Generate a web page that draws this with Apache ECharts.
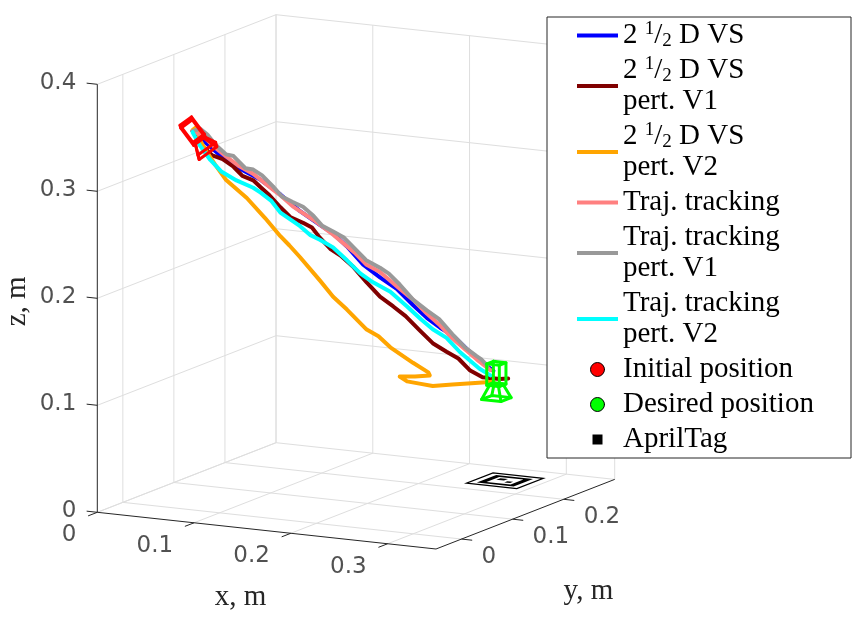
<!DOCTYPE html>
<html>
<head>
<meta charset="utf-8">
<script src="https://cdn.jsdelivr.net/npm/echarts@6/dist/echarts.min.js"></script>
<style>
  html, body { margin: 0; padding: 0; background: #fff; }
  #chart { width: 861px; height: 622px; }
</style>
</head>
<body>
<div id="chart"></div>
<script>
// axis limits (m) and tick values
const xLim = [0, 0.35]
const yLim = [-0.05, 0.30]
const zLim = [0, 0.4]
const xTicks = [0, 0.1, 0.2, 0.3]
const yTicks = [0, 0.1, 0.2]
const zTicks = [0, 0.1, 0.2, 0.3, 0.4]

// camera trajectories, [x, y, z] in m
const vsNominal = [
  [0.061, 0.021, 0.349], [0.069, 0.030, 0.338], [0.079, 0.040, 0.325], [0.092, 0.054, 0.311],
  [0.106, 0.069, 0.299], [0.119, 0.083, 0.284], [0.132, 0.097, 0.267], [0.145, 0.111, 0.253],
  [0.154, 0.120, 0.244], [0.163, 0.130, 0.231], [0.174, 0.141, 0.213], [0.185, 0.153, 0.200],
  [0.196, 0.165, 0.188], [0.207, 0.176, 0.172], [0.216, 0.186, 0.159], [0.225, 0.195, 0.149],
  [0.234, 0.205, 0.140], [0.243, 0.214, 0.127], [0.253, 0.226, 0.113], [0.260, 0.233, 0.105]
]
const vsPertV1 = [
  [0.061, 0.021, 0.349], [0.068, 0.028, 0.334], [0.074, 0.035, 0.325], [0.081, 0.042, 0.321],
  [0.088, 0.050, 0.313], [0.094, 0.056, 0.304], [0.101, 0.064, 0.299], [0.106, 0.069, 0.292],
  [0.112, 0.075, 0.284], [0.119, 0.083, 0.272], [0.126, 0.090, 0.262], [0.134, 0.099, 0.256],
  [0.140, 0.105, 0.251], [0.145, 0.111, 0.241], [0.152, 0.118, 0.230], [0.159, 0.125, 0.223],
  [0.167, 0.134, 0.212], [0.176, 0.144, 0.196], [0.185, 0.153, 0.182], [0.194, 0.162, 0.172],
  [0.202, 0.171, 0.162], [0.211, 0.181, 0.148], [0.220, 0.190, 0.135], [0.229, 0.200, 0.126],
  [0.237, 0.208, 0.119], [0.245, 0.216, 0.107], [0.253, 0.225, 0.100], [0.264, 0.238, 0.097],
  [0.270, 0.243, 0.097]
]
const vsPertV2 = [
  [0.061, 0.021, 0.350], [0.064, 0.024, 0.353], [0.066, 0.026, 0.340], [0.071, 0.031, 0.328],
  [0.076, 0.037, 0.316], [0.083, 0.045, 0.301], [0.097, 0.059, 0.283], [0.109, 0.072, 0.263],
  [0.119, 0.083, 0.245], [0.125, 0.089, 0.236], [0.132, 0.097, 0.224], [0.145, 0.111, 0.201],
  [0.154, 0.120, 0.185], [0.163, 0.130, 0.172], [0.176, 0.144, 0.152], [0.184, 0.152, 0.145],
  [0.192, 0.160, 0.134], [0.207, 0.176, 0.118], [0.217, 0.187, 0.108], [0.218, 0.188, 0.105],
  [0.208, 0.178, 0.105], [0.198, 0.167, 0.106], [0.203, 0.172, 0.101], [0.211, 0.181, 0.098],
  [0.220, 0.190, 0.095], [0.233, 0.204, 0.095], [0.248, 0.220, 0.095], [0.260, 0.233, 0.095]
]
const ttNominal = [
  [0.061, 0.021, 0.349], [0.068, 0.028, 0.344], [0.076, 0.037, 0.332], [0.083, 0.045, 0.323],
  [0.092, 0.054, 0.313], [0.101, 0.064, 0.305], [0.114, 0.078, 0.289], [0.120, 0.084, 0.282],
  [0.127, 0.092, 0.272], [0.141, 0.106, 0.258], [0.154, 0.120, 0.243], [0.168, 0.135, 0.225],
  [0.176, 0.143, 0.213], [0.185, 0.153, 0.205], [0.198, 0.167, 0.188], [0.207, 0.176, 0.177],
  [0.216, 0.186, 0.163], [0.224, 0.195, 0.152], [0.233, 0.204, 0.138], [0.249, 0.221, 0.117],
  [0.258, 0.231, 0.106]
]
const ttPertV1 = [
  [0.061, 0.021, 0.349], [0.066, 0.026, 0.351], [0.071, 0.031, 0.345], [0.076, 0.037, 0.335],
  [0.083, 0.045, 0.325], [0.088, 0.050, 0.323], [0.092, 0.054, 0.317], [0.096, 0.058, 0.311],
  [0.101, 0.064, 0.309], [0.107, 0.070, 0.303], [0.114, 0.078, 0.292], [0.120, 0.084, 0.282],
  [0.127, 0.092, 0.276], [0.134, 0.099, 0.271], [0.141, 0.106, 0.262], [0.147, 0.112, 0.252],
  [0.154, 0.120, 0.246], [0.161, 0.127, 0.240], [0.168, 0.135, 0.229], [0.176, 0.143, 0.217],
  [0.185, 0.153, 0.209], [0.191, 0.159, 0.203], [0.198, 0.167, 0.192], [0.207, 0.176, 0.177],
  [0.216, 0.186, 0.166], [0.224, 0.195, 0.157], [0.233, 0.204, 0.142], [0.241, 0.213, 0.129],
  [0.249, 0.221, 0.120], [0.252, 0.224, 0.117], [0.256, 0.229, 0.110]
]
const ttPertV2 = [
  [0.061, 0.021, 0.348], [0.066, 0.026, 0.335], [0.073, 0.033, 0.321], [0.080, 0.042, 0.309],
  [0.090, 0.052, 0.300], [0.101, 0.064, 0.292], [0.106, 0.069, 0.287], [0.113, 0.076, 0.279],
  [0.119, 0.083, 0.267], [0.132, 0.097, 0.253], [0.139, 0.104, 0.244], [0.145, 0.111, 0.239],
  [0.154, 0.120, 0.231], [0.163, 0.130, 0.218], [0.172, 0.139, 0.205], [0.180, 0.148, 0.196],
  [0.192, 0.160, 0.186], [0.203, 0.172, 0.171], [0.212, 0.182, 0.158], [0.220, 0.190, 0.148],
  [0.229, 0.200, 0.139], [0.238, 0.209, 0.125], [0.251, 0.223, 0.108], [0.258, 0.231, 0.101]
]

// camera poses and the tag on the floor
const initialPos = [0.061, 0.021, 0.349]
const initialDir = [0.5, 0.3, -0.8]
const desiredPos = [0.262, 0.235, 0.102]
const desiredDir = [0, 0, -1]
const tagCenter = [0.264, 0.248]

const names = [
  '2 1/2 D VS', '2 1/2 D VS\npert. V1', '2 1/2 D VS\npert. V2',
  'Traj. tracking', 'Traj. tracking\npert. V1', 'Traj. tracking\npert. V2',
  'Initial position', 'Desired position', 'AprilTag'
]
const colors = ['#0000ff', '#800000', '#ffa500', '#ff8080', '#999999', '#00ffff', '#ff0000', '#00ff00', '#000000']

// where the axes box lands on the page (orthographic view)
const view = {
  origin: [97.3, 512.3],
  ex: [338.7, 36.7],
  ey: [178.7, -69.6],
  ez: [0, -428]
}
const W = 861, H = 622

function project (p) {
  const u = (p[0] - xLim[0]) / (xLim[1] - xLim[0])
  const v = (p[1] - yLim[0]) / (yLim[1] - yLim[0])
  const w = (p[2] - zLim[0]) / (zLim[1] - zLim[0])
  return [
    view.origin[0] + u * view.ex[0] + v * view.ey[0] + w * view.ez[0],
    view.origin[1] + u * view.ex[1] + v * view.ey[1] + w * view.ez[1]
  ]
}

const [x0, x1] = xLim
const [y0, y1] = yLim
const [z0, z1] = zLim

// grid on floor, left wall and back wall
const gridSegs = []
xTicks.forEach(x => gridSegs.push([[x, y0, z0], [x, y1, z0]], [[x, y1, z0], [x, y1, z1]]))
yTicks.forEach(y => gridSegs.push([[x0, y, z0], [x1, y, z0]], [[x0, y, z0], [x0, y, z1]]))
zTicks.forEach(z => gridSegs.push([[x0, y0, z], [x0, y1, z]], [[x0, y1, z], [x1, y1, z]]))
gridSegs.push([[x0, y1, z0], [x0, y1, z1]], [[x1, y1, z0], [x1, y1, z1]])

// axis lines and tick marks
const axisSegs = [
  [[x0, y0, z0], [x0, y0, z1]],
  [[x0, y0, z0], [x1, y0, z0]],
  [[x1, y0, z0], [x1, y1, z0]]
]
xTicks.forEach(x => axisSegs.push([[x, y0, z0], [x, y0 - 0.018, z0]]))
yTicks.forEach(y => axisSegs.push([[x1, y, z0], [x1 + 0.011, y, z0]]))
zTicks.forEach(z => axisSegs.push([[x0, y0, z], [x0 - 0.011, y0, z]]))

// camera wireframe: body box + frustum along the viewing direction
const camBody = { half: 0.0065, depth: 0.010 }
const camCone = { near: 0.0045, far: 0.010, length: 0.013 }

function cameraWire (pos, dir) {
  const norm = a => { const l = Math.hypot(...a); return a.map(c => c / l) }
  const cross = (a, b) => [a[1] * b[2] - a[2] * b[1], a[2] * b[0] - a[0] * b[2], a[0] * b[1] - a[1] * b[0]]
  const d = norm(dir)
  let u = cross(d, [0, 0, 1])
  u = Math.hypot(...u) < 1e-6 ? [1, 0, 0] : norm(u)
  const v = cross(d, u)
  const at = (a, b, c) => pos.map((p, i) => p + a * u[i] + b * v[i] + c * d[i])
  const corners = [[-1, -1], [1, -1], [1, 1], [-1, 1]]
  const loop = (h, c) => corners.concat([corners[0]]).map(([a, b]) => at(a * h, b * h, c))
  const bh = camBody.half, bd = camBody.depth
  const cEnd = bd + camCone.length
  const wires = [loop(bh, -bd), loop(bh, bd), loop(camCone.near, bd), loop(camCone.far, cEnd)]
  corners.forEach(([a, b]) => {
    wires.push([at(a * bh, b * bh, -bd), at(a * bh, b * bh, bd)])
    wires.push([at(a * camCone.near, b * camCone.near, bd), at(a * camCone.far, b * camCone.far, cEnd)])
  })
  return wires
}

// AprilTag drawn as stacked squares: 0 = paper, 1 = black, 2 = white
const tagLayers = [
  { half: 0.026, offset: [0, 0], kind: 0 },
  { half: 0.019, offset: [0, 0], kind: 1 },
  { half: 0.0125, offset: [0, 0], kind: 2 },
  { half: 0.004, offset: [-0.005, 0.004], kind: 1 },
  { half: 0.003, offset: [0.006, -0.004], kind: 1 }
]
const tagData = tagLayers.map(l => {
  const cx = tagCenter[0] + l.offset[0], cy = tagCenter[1] + l.offset[1], h = l.half
  const quad = [[cx - h, cy - h, 0], [cx + h, cy - h, 0], [cx + h, cy + h, 0], [cx - h, cy + h, 0]]
  return quad.flatMap(project).concat([l.kind])
})

function segSeries (segs, color, width, z) {
  return {
    type: 'lines', coordinateSystem: 'cartesian2d', polyline: true, silent: true, z,
    lineStyle: { color, width, opacity: 1 },
    data: segs.map(s => ({ coords: s.map(project) }))
  }
}

function trajectory (i, pts) {
  return {
    type: 'line', name: names[i], data: pts.map(project), symbol: 'none', silent: true, z: 3,
    itemStyle: { color: colors[i] },
    lineStyle: { color: colors[i], width: 4, cap: 'round', join: 'round' }
  }
}

function camera (i, pos, dir) {
  return {
    type: 'lines', name: names[i], coordinateSystem: 'cartesian2d', polyline: true, silent: true, z: 4,
    lineStyle: { color: colors[i], width: 3, opacity: 1, join: 'round', cap: 'round' },
    data: cameraWire(pos, dir).map(w => ({ coords: w.map(project) }))
  }
}

function textSeries (items, label) {
  return {
    type: 'scatter', silent: true, symbolSize: 1, z: 5,
    itemStyle: { color: 'rgba(0,0,0,0)' },
    data: items.map(t => ({ name: t.text, value: project(t.at) })),
    label: Object.assign({
      show: true, position: 'inside', formatter: '{b}', color: '#262626',
      fontFamily: 'DejaVu Sans', fontSize: 23
    }, label)
  }
}

const serif = 'Liberation Serif'
const titleFont = '29px "Liberation Serif"'
function axisTitle (text, at, dx, dy, rotation) {
  const p = project(at)
  return {
    type: 'text', x: p[0] + dx, y: p[1] + dy, rotation: rotation || 0, z: 10,
    style: { text, font: titleFont, fill: '#262626', align: 'center', verticalAlign: 'middle' }
  }
}

// legend icons: a thick bar for lines, circles for positions, a small square for the tag
const lineIcon = 'path://M0,0M41,14M0,5L41,5L41,9L0,9Z'
const squareIcon = 'path://M0,0M14,14M2,2L12,2L12,12L2,12Z'
const legendData = names.map((name, i) => {
  if (i === 6 || i === 7) return { name, icon: 'circle', itemStyle: { color: colors[i], borderColor: '#000', borderWidth: 1 } }
  if (i === 8) return { name, icon: squareIcon, itemStyle: { color: colors[i], borderWidth: 0 } }
  return { name, icon: lineIcon, itemStyle: { color: colors[i], borderWidth: 0 } }
})

const chart = echarts.init(document.getElementById('chart'))
chart.setOption({
  animation: false,
  backgroundColor: '#fff',
  grid: { left: 0, right: 0, top: 0, bottom: 0 },
  xAxis: { type: 'value', min: 0, max: W, show: false },
  yAxis: { type: 'value', min: 0, max: H, inverse: true, show: false },
  legend: {
    orient: 'vertical', left: 547, top: 17,
    padding: [3, 28, 3, 30],
    itemWidth: 41, itemHeight: 14, itemGap: 4,
    backgroundColor: '#fff', borderColor: '#262626', borderWidth: 1, borderRadius: 0,
    selectedMode: false,
    data: legendData,
    formatter: name => name.split('\n')
      .map(line => line === '2 1/2 D VS' ? '{n|2 }{sup|1}{n|/}{sub|2}{n| D VS}' : '{n|' + line + '}')
      .join('\n'),
    textStyle: {
      width: 200, color: '#000', fontFamily: serif, fontSize: 29, lineHeight: 31,
      rich: {
        n: { fontFamily: serif, fontSize: 29, lineHeight: 31, color: '#000' },
        sup: { fontFamily: serif, fontSize: 19, lineHeight: 18, verticalAlign: 'top', color: '#000' },
        sub: { fontFamily: serif, fontSize: 19, lineHeight: 18, verticalAlign: 'bottom', color: '#000' }
      }
    }
  },
  graphic: [
    axisTitle('x, m', [(x0 + x1) / 2, y0, z0], -26, 67),
    axisTitle('y, m', [x1, (y0 + y1) / 2, z0], 63, 77),
    axisTitle('z, m', [x0, y0, (z0 + z1) / 2], -80, 3, Math.PI / 2)
  ],
  series: [
    segSeries(gridSegs, '#dedede', 1, 1),
    segSeries(axisSegs, '#262626', 1, 2),
    {
      type: 'custom', name: 'AprilTag', coordinateSystem: 'cartesian2d', silent: true, z: 2,
      itemStyle: { color: '#000' },
      data: tagData,
      renderItem: (params, api) => {
        const pts = [0, 1, 2, 3].map(i => api.coord([api.value(2 * i), api.value(2 * i + 1)]))
        const kind = api.value(8)
        return {
          type: 'polygon', shape: { points: pts },
          style: { fill: kind === 1 ? '#000' : '#fff', stroke: kind === 0 ? '#000' : null, lineWidth: 1.2 }
        }
      }
    },
    trajectory(0, vsNominal),
    trajectory(1, vsPertV1),
    trajectory(2, vsPertV2),
    trajectory(3, ttNominal),
    trajectory(4, ttPertV1),
    trajectory(5, ttPertV2),
    camera(6, initialPos, initialDir),
    camera(7, desiredPos, desiredDir),
    textSeries(xTicks.map(x => ({ text: String(x), at: [x, y0, z0] })),
      { align: 'right', verticalAlign: 'middle', offset: [-21, 23] }),
    textSeries(yTicks.map(y => ({ text: String(y), at: [x1, y, z0] })),
      { align: 'left', verticalAlign: 'middle', offset: [20, 18] }),
    textSeries(zTicks.map(z => ({ text: String(z), at: [x0, y0, z] })),
      { align: 'right', verticalAlign: 'middle', offset: [-21, -1] })
  ]
})
</script>
</body>
</html>
